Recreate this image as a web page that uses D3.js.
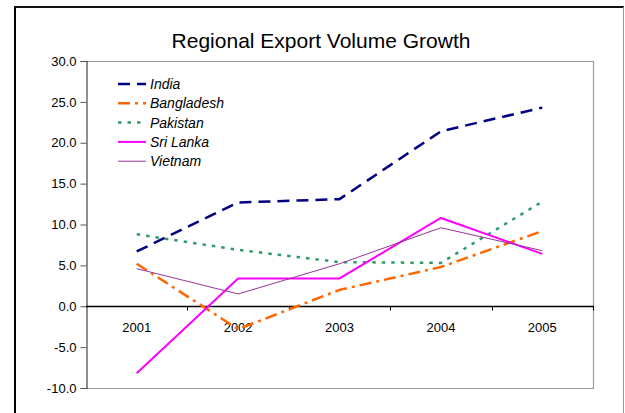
<!DOCTYPE html>
<html>
<head>
<meta charset="utf-8">
<script src="https://cdn.jsdelivr.net/npm/d3@7"></script>
<style>
  body { margin: 0; background: #fff; }
  svg { display: block; font-family: 'Liberation Sans', Arial, sans-serif; }
</style>
</head>
<body>
<div id="chart"></div>
<script>
// data
var years = ['2001', '2002', '2003', '2004', '2005'];
var india = [6.7, 12.7, 13.1, 21.4, 24.3];
var bangladesh = [5.2, -2.8, 2.0, 4.8, 9.2];
var pakistan = [8.8, 6.9, 5.4, 5.3, 12.8];
var sriLanka = [-8.2, 3.4, 3.4, 10.8, 6.4];
var vietnam = [4.6, 1.5, 5.2, 9.6, 6.8];
var yTicks = [-10, -5, 0, 5, 10, 15, 20, 25, 30];

var series = [
  { name: 'India', values: india, color: '#000080', width: 2.5, dash: '12,7' },
  { name: 'Bangladesh', values: bangladesh, color: '#ff6600', width: 2.5, dash: '12,5,3,5' },
  { name: 'Pakistan', values: pakistan, color: '#339966', width: 2.5, dash: '3.5,6' },
  { name: 'Sri Lanka', values: sriLanka, color: '#ff00ff', width: 2, dash: null },
  { name: 'Vietnam', values: vietnam, color: '#993399', width: 1, dash: null }
];

var width = 625, height = 413;
var plot = { left: 86, right: 593, top: 61, bottom: 388 };

var svg = d3.select('#chart').append('svg')
  .attr('width', width)
  .attr('height', height);

// outer frame
svg.append('line').attr('x1', 15).attr('x2', 15).attr('y1', 6).attr('y2', height)
  .attr('stroke', '#000').attr('stroke-width', 2);
svg.append('line').attr('x1', 14).attr('x2', 624).attr('y1', 7).attr('y2', 7)
  .attr('stroke', '#111').attr('stroke-width', 2);
svg.append('line').attr('x1', 623.5).attr('x2', 623.5).attr('y1', 7).attr('y2', height)
  .attr('stroke', '#999').attr('stroke-width', 1);

// title
svg.append('text')
  .attr('x', 321).attr('y', 48)
  .attr('text-anchor', 'middle')
  .attr('font-size', 21)
  .attr('fill', '#000')
  .text('Regional Export Volume Growth');

// scales
var x = d3.scaleBand().domain(years).range([plot.left, plot.right]);
var y = d3.scaleLinear().domain([-10, 30]).range([plot.bottom, plot.top]);

// plot border (top, right, bottom)
svg.append('path')
  .attr('d', 'M' + plot.left + ',' + (plot.top + 0.5) + 'H' + (plot.right + 0.5) +
    'V' + (plot.bottom + 0.5) + 'H' + plot.left)
  .attr('fill', 'none')
  .attr('stroke', '#9a9a9a')
  .attr('stroke-width', 1.2);

// y axis
var yAxis = d3.axisLeft(y)
  .tickValues(yTicks)
  .tickSize(6)
  .tickPadding(4)
  .tickFormat(function (d) { return d.toFixed(1); });
var gy = svg.append('g')
  .attr('transform', 'translate(' + (plot.left + 0.5) + ',0)')
  .call(yAxis);
gy.select('.domain').attr('stroke', '#444').attr('stroke-width', 1.2);
gy.selectAll('.tick line').attr('stroke', '#555');
gy.selectAll('.tick text')
  .attr('font-size', 13)
  .attr('fill', '#000')
  .attr('font-family', "'Liberation Sans', Arial, sans-serif");

// x axis on the zero line, ticks at band edges
var y0 = Math.round(y(0)) + 0.5;
var xAxis = d3.axisBottom(x).tickSize(0).tickPadding(16);
var gx = svg.append('g')
  .attr('transform', 'translate(0,' + y0 + ')')
  .call(xAxis);
gx.select('.domain').remove();
gx.selectAll('.tick text')
  .attr('font-size', 13)
  .attr('fill', '#000')
  .attr('font-family', "'Liberation Sans', Arial, sans-serif");
svg.append('line')
  .attr('x1', plot.left).attr('x2', plot.right + 1)
  .attr('y1', y0).attr('y2', y0)
  .attr('stroke', '#000').attr('stroke-width', 1.3);
svg.selectAll('.xtick')
  .data(years)
  .enter()
  .append('line')
  .attr('class', 'xtick')
  .attr('x1', function (d) { return Math.round(x(d) + x.bandwidth()) + 0.5; })
  .attr('x2', function (d) { return Math.round(x(d) + x.bandwidth()) + 0.5; })
  .attr('y1', y0).attr('y2', y0 + 4)
  .attr('stroke', '#000');

// lines
var line = d3.line()
  .x(function (d, i) { return x(years[i]) + x.bandwidth() / 2; })
  .y(function (d) { return y(d); });

svg.selectAll('.series')
  .data(series)
  .enter()
  .append('path')
  .attr('class', 'series')
  .attr('d', function (d) { return line(d.values); })
  .attr('fill', 'none')
  .attr('stroke', function (d) { return d.color; })
  .attr('stroke-width', function (d) { return d.width; })
  .attr('stroke-dasharray', function (d) { return d.dash; });

// legend
var legend = svg.selectAll('.legend')
  .data(series)
  .enter()
  .append('g')
  .attr('class', 'legend')
  .attr('transform', function (d, i) {
    return 'translate(118,' + (84 + i * 19.3) + ')';
  });
legend.append('line')
  .attr('x1', 0).attr('x2', 28)
  .attr('y1', 0).attr('y2', 0)
  .attr('stroke', function (d) { return d.color; })
  .attr('stroke-width', function (d) { return d.width; })
  .attr('stroke-dasharray', function (d) { return d.dash; });
legend.append('text')
  .attr('x', 32)
  .attr('y', 5)
  .attr('font-size', 14)
  .attr('font-style', 'italic')
  .attr('fill', '#000')
  .text(function (d) { return d.name; });
</script>
</body>
</html>
